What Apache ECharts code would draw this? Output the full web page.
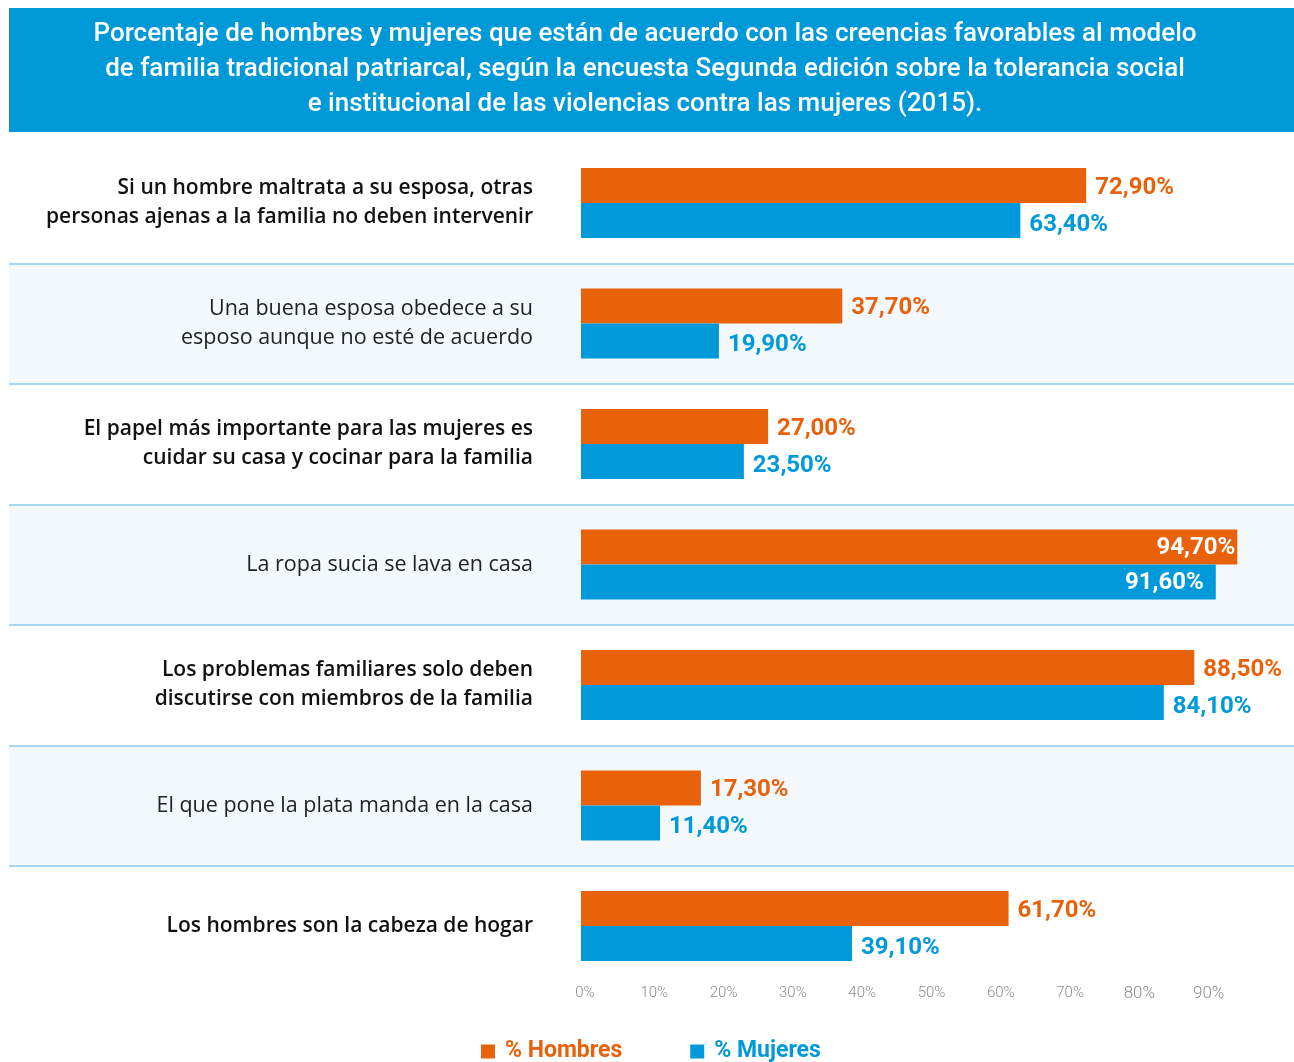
<!DOCTYPE html>
<html>
<head>
<meta charset="utf-8">
<script src="https://cdn.jsdelivr.net/npm/echarts@6/dist/echarts.min.js"></script>
<style>
  html, body { margin: 0; padding: 0; background: #fff; }
  #chart { width: 1294px; height: 1062px; }
</style>
</head>
<body>
<div id="chart"></div>
<script>
    // categorias (de arriba hacia abajo)
    var categories = [
        'Si un hombre maltrata a su esposa, otras\npersonas ajenas a la familia no deben intervenir',
        'Una buena esposa obedece a su\nesposo aunque no esté de acuerdo',
        'El papel más importante para las mujeres es\ncuidar su casa y cocinar para la familia',
        'La ropa sucia se lava en casa',
        'Los problemas familiares solo deben\ndiscutirse con miembros de la familia',
        'El que pone la plata manda en la casa',
        'Los hombres son la cabeza de hogar'
    ]
    var hombres = [72.9, 37.7, 27.0, 94.7, 88.5, 17.3, 61.7]
    var mujeres = [63.4, 19.9, 23.5, 91.6, 84.1, 11.4, 39.1]
    var tickLabels = ['0%', '10%', '20%', '30%', '40%', '50%', '60%', '70%', '80%', '90%']
    var seriesNames = ['% Hombres', '% Mujeres']

    var titleText = 'Porcentaje de hombres y mujeres que están de acuerdo con las creencias favorables al modelo\n' +
        'de familia tradicional patriarcal, según la encuesta Segunda edición sobre la tolerancia social\n' +
        'e institucional de las violencias contra las mujeres (2015).'

    var ORANGE = '#e8620c'
    var BLUE = '#0099d9'
    var FONT = 'Roboto, "Noto Sans", sans-serif'
    var LABEL_FONT = '"Open Sans", "Noto Sans", sans-serif'

    function fmt (v) {
        return v.toFixed(2).replace('.', ',') + '%'
    }

    // las barras muy largas llevan la etiqueta por dentro, en blanco
    function buildData (values, insideDistance) {
        return values.map(function (v) {
            if (v > 90) {
                return { value: v, label: { position: 'insideRight', color: '#fff', distance: insideDistance, offset: [0, 1] } }
            }
            return v
        })
    }

    var gridTop = 142.75
    var gridBottom = 75.75

    var option = {
        animation: false,
        textStyle: { fontFamily: FONT },
        title: {
            text: titleText,
            left: 645,
            top: 17,
            padding: 0,
            z: 10,
            textAlign: 'center',
            textStyle: {
                color: '#fff',
                fontSize: 26,
                fontWeight: 500,
                lineHeight: 35,
                fontFamily: FONT
            }
        },
        graphic: [
            {
                type: 'rect',
                z: 1,
                shape: { x: 9, y: 8, width: 1285, height: 124 },
                style: { fill: '#0099d8' }
            }
        ],
        legend: {
            data: [
                { name: seriesNames[0], textStyle: { color: ORANGE } },
                { name: seriesNames[1], textStyle: { color: BLUE } }
            ],
            left: 481,
            top: 1040,
            padding: 0,
            icon: 'rect',
            itemWidth: 14,
            itemHeight: 14,
            itemGap: 68,
            textStyle: {
                fontSize: 23,
                fontWeight: 'bold',
                fontFamily: FONT,
                padding: [0, 0, 0, 5]
            }
        },
        grid: [
            // fondo de filas a todo el ancho
            { left: 9, right: 0, top: gridTop, bottom: gridBottom },
            // barras
            { left: 581, right: 20, top: gridTop, bottom: gridBottom }
        ],
        xAxis: [
            { gridIndex: 0, type: 'value', show: false },
            {
                gridIndex: 1,
                type: 'value',
                min: 0,
                max: 100,
                interval: 10,
                axisLine: { show: false },
                axisTick: { show: false },
                splitLine: { show: false },
                axisLabel: {
                    margin: -1,
                    padding: [0, 0, 0, 8],
                    color: '#8c8c8c',
                    fontSize: 15,
                    fontWeight: 300,
                    formatter: function (v) {
                        var lbl = tickLabels[Math.round(v / 10)]
                        if (!lbl) return ''
                        return v >= 80 ? '{big|' + lbl + '}' : lbl
                    },
                    rich: {
                        big: { fontSize: 17, color: '#8c8c8c', fontWeight: 300, padding: [0, 0, 4, 0] }
                    }
                }
            }
        ],
        yAxis: [
            {
                gridIndex: 0,
                type: 'category',
                inverse: true,
                data: categories,
                axisLine: { show: false },
                axisTick: { show: false },
                axisLabel: { show: false },
                splitArea: {
                    show: true,
                    areaStyle: { color: ['#ffffff', '#f3f8fc'] }
                },
                splitLine: {
                    show: true,
                    showMinLine: false,
                    showMaxLine: false,
                    lineStyle: { color: '#a6d8f0', width: 2 }
                }
            },
            {
                gridIndex: 1,
                type: 'category',
                inverse: true,
                data: categories,
                axisLine: { show: false },
                axisTick: { show: false },
                splitLine: { show: false },
                axisLabel: {
                    margin: 48,
                    align: 'right',
                    formatter: function (value, index) {
                        var key = index % 2 === 0 ? 'b' : 'r'
                        return value.split('\n').map(function (l) {
                            return '{' + key + '|' + l + '}'
                        }).join('\n')
                    },
                    rich: {
                        b: { fontSize: 21, fontWeight: 600, color: '#111', lineHeight: 29, fontFamily: LABEL_FONT, align: 'right' },
                        r: { fontSize: 21.5, fontWeight: 400, color: '#222', lineHeight: 29, fontFamily: LABEL_FONT, align: 'right' }
                    }
                }
            }
        ],
        series: [
            {
                name: seriesNames[0],
                type: 'bar',
                xAxisIndex: 1,
                yAxisIndex: 1,
                barWidth: 35,
                barGap: '0%',
                itemStyle: { color: ORANGE },
                label: {
                    show: true,
                    position: 'right',
                    distance: 9,
                    offset: [0, 2],
                    color: ORANGE,
                    fontSize: 24,
                    fontWeight: 'bold',
                    formatter: function (p) { return fmt(p.value) }
                },
                data: buildData(hombres, 2)
            },
            {
                name: seriesNames[1],
                type: 'bar',
                xAxisIndex: 1,
                yAxisIndex: 1,
                barWidth: 35,
                barGap: '0%',
                itemStyle: { color: BLUE },
                label: {
                    show: true,
                    position: 'right',
                    distance: 9,
                    offset: [0, 4],
                    color: BLUE,
                    fontSize: 24,
                    fontWeight: 'bold',
                    formatter: function (p) { return fmt(p.value) }
                },
                data: buildData(mujeres, 12)
            }
        ]
    }

    var dom = echarts.init(document.getElementById('chart'))
    dom.setOption(option)
    window.addEventListener('resize', function () { dom.resize() })
</script>
</body>
</html>
